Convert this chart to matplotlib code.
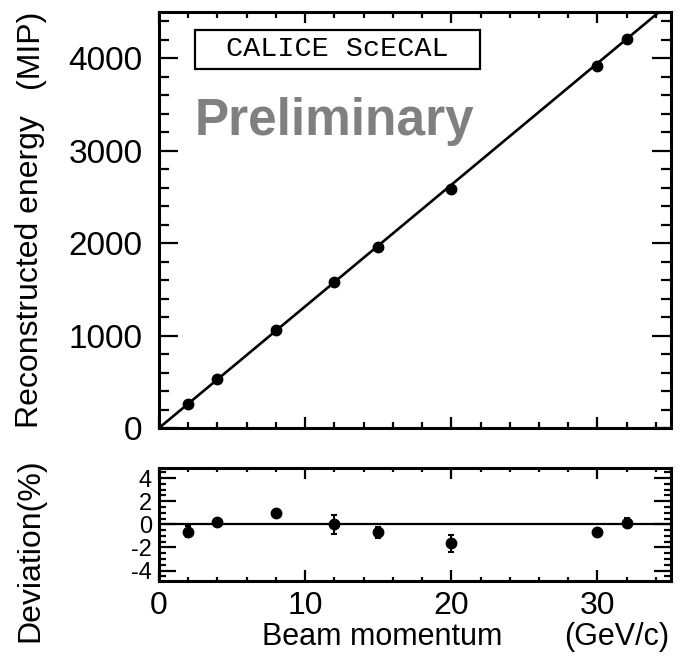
import matplotlib
matplotlib.use("Agg")
import matplotlib.pyplot as plt
from matplotlib.ticker import MultipleLocator
from matplotlib.patches import Rectangle
import numpy as np

# ---- data ----
momentum = [2, 4, 8, 12, 15, 20, 30, 32]           # GeV/c
energy = [265, 532, 1065, 1580, 1960, 2588, 3919, 4211]  # MIP
deviation = [-0.63, 0.17, 0.94, 0.0, -0.69, -1.63, -0.69, 0.14]  # %
dev_err = [0.45, 0.2, 0.3, 0.85, 0.5, 0.74, 0.3, 0.4]
fit_slope = 131.5   # MIP per GeV/c
fit_intercept = 0.0

plt.rcParams['font.family'] = ['Liberation Sans', 'DejaVu Sans']

fig = plt.figure(figsize=(6.81, 6.65), dpi=100)
W, H = 681, 665

def ax_rect(l, r, t, b):
    return [l / W, 1 - b / H, (r - l) / W, (b - t) / H]

ax1 = fig.add_axes(ax_rect(159, 670.5, 12, 428))
ax2 = fig.add_axes(ax_rect(159, 670.5, 467.7, 581))

for ax in (ax1, ax2):
    for s in ax.spines.values():
        s.set_linewidth(2.2)
    ax.set_xlim(0, 35)
    ax.xaxis.set_major_locator(MultipleLocator(10))
    ax.xaxis.set_minor_locator(MultipleLocator(2))

# top panel
xf = np.array([0, 35])
ax1.plot(xf, fit_intercept + fit_slope * xf, color='black', lw=1.9, zorder=2)
ax1.plot(momentum, energy, 'o', color='black', ms=7.5, zorder=3)
ax1.set_ylim(0, 4500)
ax1.yaxis.set_major_locator(MultipleLocator(1000))
ax1.yaxis.set_minor_locator(MultipleLocator(200))
ax1.tick_params(axis='both', which='both', direction='in', top=True, right=True, width=1.6)
ax1.tick_params(axis='y', which='major', length=14, labelsize=24, pad=12)
ax1.tick_params(axis='y', which='minor', length=7)
ax1.tick_params(axis='x', which='major', length=8, labelbottom=False)
ax1.tick_params(axis='x', which='minor', length=4)

ax1.add_patch(Rectangle((0.070, 0.863), 0.558, 0.094, transform=ax1.transAxes,
                        fill=False, lw=1.6, ec='black', zorder=4))
ax1.text(0.349, 0.910, 'CALICE ScECAL', transform=ax1.transAxes, ha='center', va='center',
         family=['Liberation Mono', 'DejaVu Sans Mono'], fontsize=20.5)
ax1.text(0.344, 0.704, 'Preliminary', transform=ax1.transAxes, ha='center', va='baseline',
         fontsize=37, fontweight='bold', color='#808080')

# bottom panel
ax2.axhline(0, color='black', lw=1.6, zorder=2)
ax2.errorbar(momentum, deviation, yerr=dev_err, fmt='o', color='black', ms=7.5,
             elinewidth=1.5, capsize=2.5, capthick=1.5, zorder=3)
ax2.set_ylim(-4.9, 4.9)
ax2.yaxis.set_minor_locator(MultipleLocator(0.5))
ax2.set_yticks([-4, -2, 0, 2, 4])
ax2.set_yticklabels(['-4', '-2', '0', '2', '4'])
ax2.tick_params(axis='both', which='both', direction='in', top=True, right=True, width=1.6)
ax2.tick_params(axis='y', which='major', length=12, labelsize=17, pad=5)
ax2.tick_params(axis='y', which='minor', length=5)
ax2.tick_params(axis='x', which='major', length=8, labelsize=23, pad=7)
ax2.tick_params(axis='x', which='minor', length=3)

# axis labels
fs = 23
fig.text(30 / W, 1 - 272 / H, 'Reconstructed energy', rotation=90, ha='center', va='center', fontsize=fs)
fig.text(30 / W, 1 - 49 / H, '(MIP)', rotation=90, ha='center', va='center', fontsize=fs)
fig.text(30 / W, 1 - 550 / H, 'Deviation(%)', rotation=90, ha='center', va='center', fontsize=fs)
fig.text(382.5 / W, 1 - 645 / H, 'Beam momentum', ha='center', va='baseline', fontsize=22)
fig.text(616.5 / W, 1 - 645 / H, '(GeV/c)', ha='center', va='baseline', fontsize=22)

fig.savefig('out.png', dpi=100)
